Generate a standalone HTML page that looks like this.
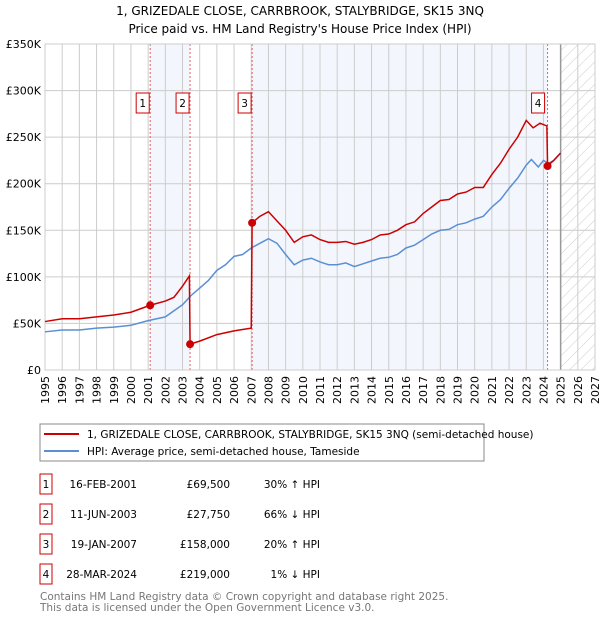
<!DOCTYPE html>
<html><head><meta charset="utf-8"><style>
body{margin:0;background:#fff;font-family:"DejaVu Sans","Liberation Sans",sans-serif;}
svg text{font-family:"DejaVu Sans","Liberation Sans",sans-serif;}
</style></head><body>
<svg id="c" width="600" height="620" viewBox="0 0 600 620" xmlns="http://www.w3.org/2000/svg">
<defs><pattern id="hatch" width="8" height="8" patternUnits="userSpaceOnUse" patternTransform="rotate(45)"><line x1="0" y1="0" x2="0" y2="8" stroke="#ccc" stroke-width="1"/></pattern></defs>
<text x="300" y="15" text-anchor="middle" font-size="12">1, GRIZEDALE CLOSE, CARRBROOK, STALYBRIDGE, SK15 3NQ</text>
<text x="300" y="33" text-anchor="middle" font-size="12">Price paid vs. HM Land Registry's House Price Index (HPI)</text>
<g id="plot"></g>
<rect x="40" y="424" width="444" height="37" fill="#fff" stroke="#888"/>
<line x1="44" y1="434" x2="79" y2="434" stroke="#cc0000" stroke-width="2"/>
<text x="87" y="438" font-size="10.5">1, GRIZEDALE CLOSE, CARRBROOK, STALYBRIDGE, SK15 3NQ (semi-detached house)</text>
<line x1="44" y1="451" x2="79" y2="451" stroke="#5b8fd4" stroke-width="2"/>
<text x="87" y="455" font-size="10.5">HPI: Average price, semi-detached house, Tameside</text>
<g id="table" font-size="10.5"></g>
<text x="40" y="600" font-size="10.5" fill="#777">Contains HM Land Registry data © Crown copyright and database right 2025.</text>
<text x="40" y="611" font-size="10.5" fill="#777">This data is licensed under the Open Government Licence v3.0.</text>
</svg>
<script>
const hpiYears=[1995,1996,1997,1998,1999,2000,2001,2002,2003,2003.5,2004,2004.5,2005,2005.5,2006,2006.5,2007,2007.5,2008,2008.5,2009,2009.5,2010,2010.5,2011,2011.5,2012,2012.5,2013,2013.5,2014,2014.5,2015,2015.5,2016,2016.5,2017,2017.5,2018,2018.5,2019,2019.5,2020,2020.5,2021,2021.5,2022,2022.5,2023,2023.3,2023.7,2024,2024.3,2024.6,2025];
const hpiValues=[41,43,43,45,46,48,53,57,70,80,88,96,107,113,122,124,131,136,141,136,124,113,118,120,116,113,113,115,111,114,117,120,121,124,131,134,140,146,150,151,156,158,162,165,175,183,195,206,220,226,218,225,222,225,233];
const priceYears=[1995,1996,1997,1998,1999,2000,2001.12,2002,2002.5,2003,2003.4,2003.44,2004,2005,2006,2007.0,2007.05,2007.5,2008,2008.5,2009,2009.5,2010,2010.5,2011,2011.5,2012,2012.5,2013,2013.5,2014,2014.5,2015,2015.5,2016,2016.5,2017,2017.5,2018,2018.5,2019,2019.5,2020,2020.5,2021,2021.5,2022,2022.5,2023,2023.4,2023.8,2024.2,2024.24,2024.6,2025];
const priceValues=[52,55,55,57,59,62,69.5,74,78,90,101,27.75,31,38,42,45,158,165,170,160,150,137,143,145,140,137,137,138,135,137,140,145,146,150,156,159,168,175,182,183,189,191,196,196,210,222,237,250,268,260,265,262,219,225,233];
const saleLabels=["1","2","3","4"];
const saleYears=[2001.12,2003.44,2007.05,2024.24];
const saleValues=[69.5,27.75,158,219];
const saleDates=["16-FEB-2001","11-JUN-2003","19-JAN-2007","28-MAR-2024"];
const salePrices=["£69,500","£27,750","£158,000","£219,000"];
const saleHpi=["30% ↑ HPI","66% ↓ HPI","20% ↑ HPI","1% ↓ HPI"];
const yTicks=[0,50,100,150,200,250,300,350];
const yTickLabels=["£0","£50K","£100K","£150K","£200K","£250K","£300K","£350K"];
const xTicks=[1995,1996,1997,1998,1999,2000,2001,2002,2003,2004,2005,2006,2007,2008,2009,2010,2011,2012,2013,2014,2015,2016,2017,2018,2019,2020,2021,2022,2023,2024,2025,2026,2027];

const NS="http://www.w3.org/2000/svg";
const L=45,R=595,T=44,B=370;
const X=y=>L+(y-1995)/(2027-1995)*(R-L);
const Y=v=>B-v/350*(B-T);
const plot=document.getElementById('plot');
function mk(tag,at,parent){const e=document.createElementNS(NS,tag);for(const k in at)e.setAttribute(k,at[k]);(parent||plot).appendChild(e);return e;}

let e=mk('rect',{x:X(saleYears[0]),y:T,width:X(saleYears[1])-X(saleYears[0]),height:B-T,fill:'#eef3fc',opacity:0.7});


e=mk('rect',{x:X(saleYears[2]),y:T,width:X(saleYears[3])-X(saleYears[2]),height:B-T,fill:'#eef3fc',opacity:0.7});


e=mk('rect',{x:X(2025),y:T,width:R-X(2025),height:B-T,fill:'url(#hatch)'});


xTicks.forEach((t,i)=>{
  let g=mk('line',{x1:X(t),x2:X(t),y1:T,y2:B,stroke:'#ccc','stroke-width':1});
  
  
  let tx=mk('text',{x:0,y:0,'font-size':11,'text-anchor':'end',transform:`translate(${X(t)+4},${B+6}) rotate(-90)`});
  tx.textContent=t;
  
  
});
yTicks.forEach((t,i)=>{
  let g=mk('line',{x1:L,x2:R,y1:Y(t),y2:Y(t),stroke:'#ccc','stroke-width':1});
  
  
  let tx=mk('text',{x:L-4,y:Y(t)+4,'font-size':11,'text-anchor':'end'});
  tx.textContent=yTickLabels[i];
  
  
});
e=mk('line',{x1:X(2025),x2:X(2025),y1:T,y2:B,stroke:'#999','stroke-width':1.5});


saleYears.forEach((s,i)=>{
  let l=mk('line',{x1:X(s),x2:X(s),y1:T,y2:B,stroke:'#e06060','stroke-width':1,'stroke-dasharray':'2,2'});
  
  
});
e=mk('rect',{x:L,y:T,width:R-L,height:B-T,fill:'none',stroke:'#ccc'});


e=mk('polyline',{points:hpiYears.map((y,i)=>X(y)+','+Y(hpiValues[i])).join(' '),fill:'none',stroke:'#5b8fd4','stroke-width':1.5});


e=mk('polyline',{points:priceYears.map((y,i)=>X(y)+','+Y(priceValues[i])).join(' '),fill:'none',stroke:'#cc0000','stroke-width':1.5});


saleYears.forEach((s,i)=>{
  let c=mk('circle',{cx:X(s),cy:Y(saleValues[i]),r:4,fill:'#cc0000'});
  
  
  let bx=X(s)-(i==3?10:8)-6, by=93;
  let r=mk('rect',{x:bx,y:by,width:13,height:20,fill:'#fff',stroke:'#cc0000'});
  
  
  let t=mk('text',{x:bx+6.5,y:by+14,'font-size':10.5,'text-anchor':'middle'});
  t.textContent=saleLabels[i];
  
  
});
const tb=document.getElementById('table');
saleLabels.forEach((s,i)=>{
  const cy=484+i*30;
  let r=mk('rect',{x:40,y:cy-10,width:12,height:20,fill:'#fff',stroke:'#cc0000'},tb);
  
  
  let cells=[[46,s,'middle'],[137,saleDates[i],'end'],[230,salePrices[i],'end'],[320,saleHpi[i],'end']];
  cells.forEach(c=>{let t=mk('text',{x:c[0],y:cy+4,'text-anchor':c[2]},tb);t.textContent=c[1];
    
    });
});
</script>
</body></html>
